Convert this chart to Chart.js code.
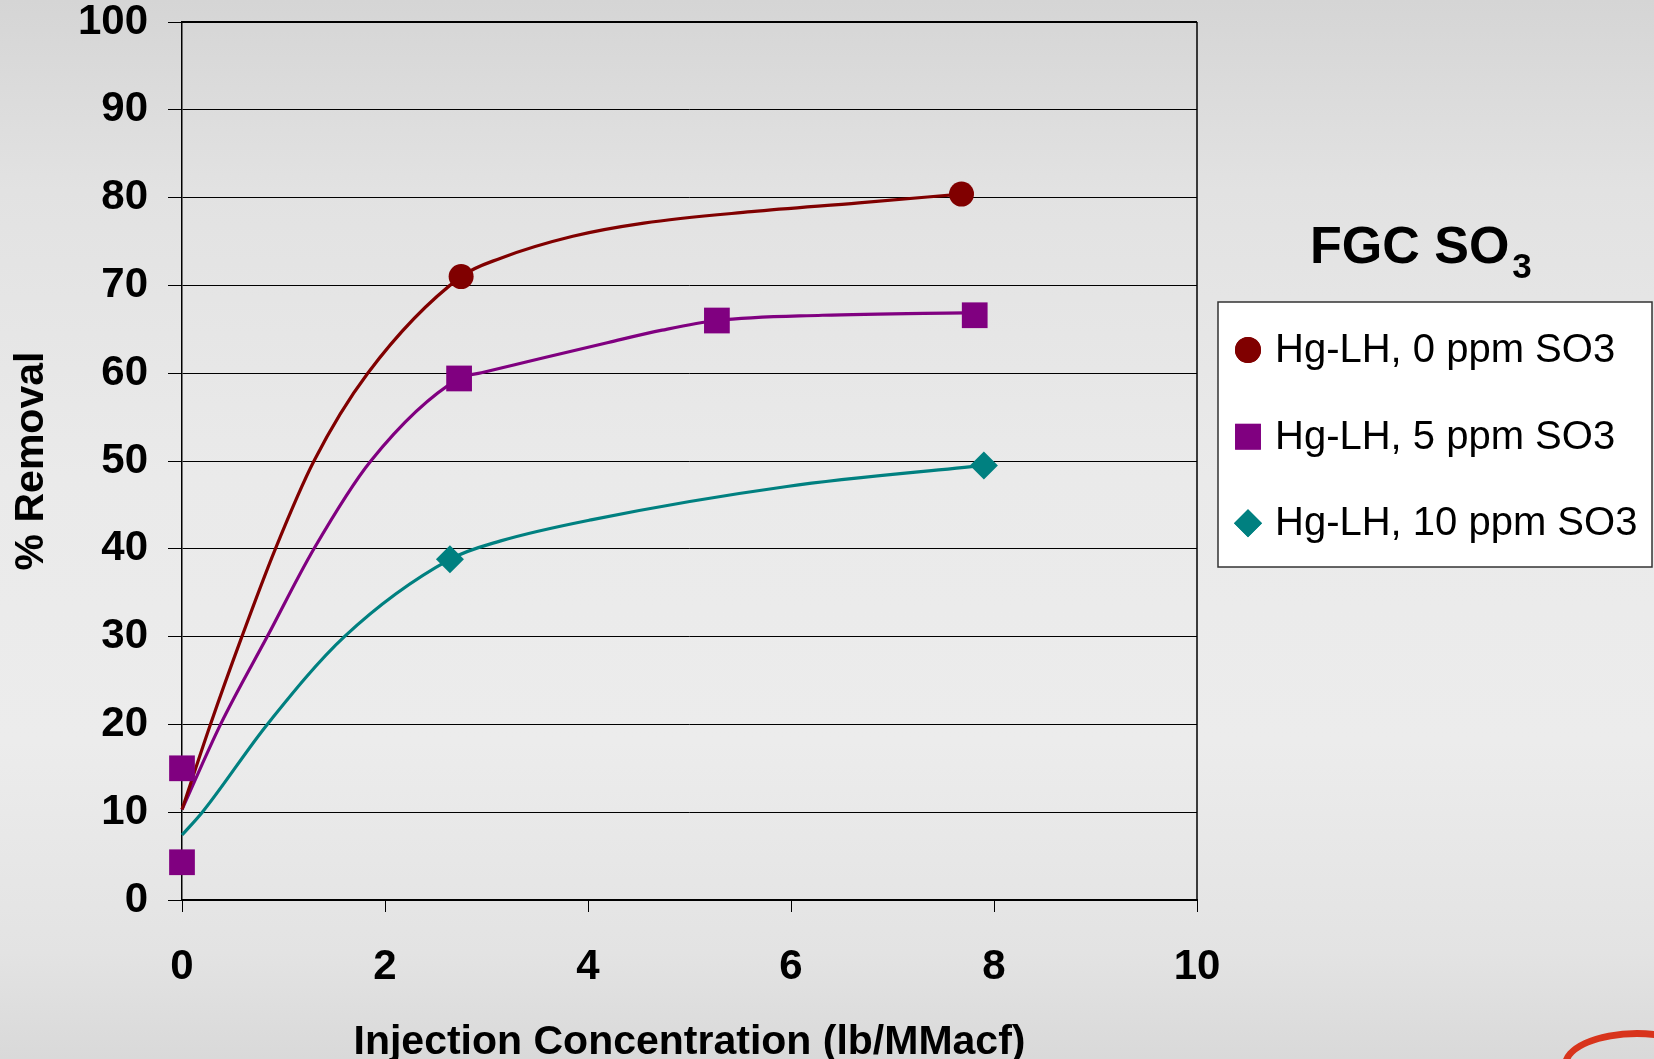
<!DOCTYPE html>
<html>
<head>
<meta charset="utf-8">
<title>Hg removal vs injection concentration</title>
<script src="https://cdn.jsdelivr.net/npm/chart.js@4.4.1/dist/chart.umd.min.js"></script>
<style>
  html, body { margin: 0; padding: 0; }
  body {
    width: 1654px; height: 1059px; overflow: hidden; position: relative;
    background: linear-gradient(180deg, #d5d5d5 0%, #e2e2e2 18%, #eaeaea 45%, #ececec 70%, #e3e3e3 90%, #d9d9d9 100%);
    font-family: "Liberation Sans", Arial, sans-serif;
  }
  #wrap { position: absolute; left: 0; top: 0; width: 1654px; height: 1059px; }
  .logo {
    position: absolute; left: 1562px; top: 1030px; width: 150px; height: 70px;
    border: 7px solid #d8341c; border-radius: 50%; box-sizing: border-box;
  }
</style>
</head>
<body>
<div class="logo"></div>
<div id="wrap"><canvas id="removalChart" width="1654" height="1059"></canvas></div>
<script>
// measured points (lb/MMacf, % removal)
const seriesLabels = ["Hg-LH, 0 ppm SO3", "Hg-LH, 5 ppm SO3", "Hg-LH, 10 ppm SO3"];
const seriesColors = ["#800000", "#800080", "#008080"];

const pts0X = [2.75, 7.68];
const pts0Y = [71.0, 80.4];
const pts5X = [0, 0, 2.73, 5.27, 7.81];
const pts5Y = [15.0, 4.3, 59.4, 66.0, 66.6];
const pts10X = [2.64, 7.90];
const pts10Y = [38.8, 49.5];

// curves
const curve0X = [0, 0.28, 0.59, 0.92, 1.30, 1.83, 2.75, 3.14, 3.85, 4.55, 5.61, 6.67, 7.68];
const curve0Y = [10.3, 20, 30, 40, 50, 60, 71.0, 73.1, 75.6, 77.1, 78.4, 79.4, 80.4];
const curve5X = [0, 0.38, 0.84, 1.30, 1.86, 2.73, 2.95, 3.40, 4.20, 4.73, 5.27, 6.31, 7.81];
const curve5Y = [10.3, 20, 30, 40, 50, 59.4, 60.05, 61.3, 63.5, 64.9, 66.0, 66.6, 66.9];
const curve10X = [0, 0.20, 0.84, 1.60, 2.64, 3.14, 4.03, 5.96, 7.90];
const curve10Y = [7.4, 10, 20, 30, 38.8, 40.9, 43.3, 47.1, 49.5];

const xTicks = [0, 2, 4, 6, 8, 10];
const yTicks = [0, 10, 20, 30, 40, 50, 60, 70, 80, 90, 100];

const FONT = "'Liberation Sans', Arial, sans-serif";

const toPoints = (xs, ys) => xs.map((x, i) => ({ x, y: ys[i] }));

const markerSet = (label, xs, ys, color, style, radius) => ({
  label,
  data: toPoints(xs, ys),
  showLine: false,
  pointStyle: style,
  pointRadius: radius,
  pointHoverRadius: radius,
  pointBackgroundColor: color,
  pointBorderWidth: 0,
  backgroundColor: color,
  borderColor: color,
  clip: false,
  isMarker: true
});

const curveSet = (label, xs, ys, color) => ({
  label,
  data: toPoints(xs, ys),
  showLine: true,
  borderColor: color,
  borderWidth: 3.2,
  pointRadius: 0,
  cubicInterpolationMode: "monotone",
  fill: false,
  clip: false,
  isMarker: false
});

// right and top edges of the plot box
const plotFrame = {
  id: "plotFrame",
  beforeDatasetsDraw(chart) {
    const { ctx, chartArea: a } = chart;
    ctx.save();
    ctx.strokeStyle = "#000";
    ctx.lineWidth = 1.5;
    ctx.beginPath();
    ctx.moveTo(a.right, a.top);
    ctx.lineTo(a.right, a.bottom);
    ctx.stroke();
    ctx.lineWidth = 2;
    ctx.beginPath();
    ctx.moveTo(a.left, a.top);
    ctx.lineTo(a.right, a.top);
    ctx.stroke();
    ctx.restore();
  }
};

// boxed legend with the "FGC SO3" heading
const sideLegend = {
  id: "sideLegend",
  afterDraw(chart) {
    const ctx = chart.ctx;
    ctx.save();
    ctx.fillStyle = "#000";
    ctx.textBaseline = "alphabetic";
    ctx.textAlign = "left";
    ctx.font = "bold 52px " + FONT;
    ctx.fillText("FGC SO", 1310, 263);
    const w = ctx.measureText("FGC SO").width;
    ctx.font = "bold 35px " + FONT;
    ctx.fillText("3", 1310 + w + 3, 278);

    ctx.fillStyle = "#fff";
    ctx.fillRect(1218, 302, 434, 265);
    ctx.strokeStyle = "#333";
    ctx.lineWidth = 1.5;
    ctx.strokeRect(1218, 302, 434, 265);

    const rows = [350, 436.7, 523.3];
    chart.data.datasets.filter(d => d.isMarker).forEach((ds, i) => {
      const y = rows[i];
      ctx.fillStyle = ds.pointBackgroundColor;
      const sz = ds.pointStyle === "rect" ? 18.2 : ds.pointStyle === "rectRot" ? 14 : 13;
      Chart.helpers.drawPoint(ctx, { pointStyle: ds.pointStyle, radius: sz, borderWidth: 0, rotation: 0 }, 1248, y);
      ctx.fill();
      ctx.fillStyle = "#000";
      ctx.font = "40px " + FONT;
      ctx.textBaseline = "middle";
      ctx.fillText(ds.label, 1275, y + 1);
    });
    ctx.restore();
  }
};

new Chart(document.getElementById("removalChart"), {
  type: "scatter",
  data: {
    datasets: [
      markerSet(seriesLabels[0], pts0X, pts0Y, seriesColors[0], "circle", 12.5),
      markerSet(seriesLabels[1], pts5X, pts5Y, seriesColors[1], "rect", 18.2),
      markerSet(seriesLabels[2], pts10X, pts10Y, seriesColors[2], "rectRot", 14),
      curveSet("fit 0 ppm", curve0X, curve0Y, seriesColors[0]),
      curveSet("fit 5 ppm", curve5X, curve5Y, seriesColors[1]),
      curveSet("fit 10 ppm", curve10X, curve10Y, seriesColors[2])
    ]
  },
  options: {
    responsive: false,
    devicePixelRatio: 1,
    animation: false,
    layout: { padding: { top: 22, right: 457, bottom: 0, left: 0 } },
    plugins: {
      legend: { display: false },
      tooltip: { enabled: false }
    },
    scales: {
      x: {
        type: "linear",
        min: 0,
        max: 10,
        afterBuildTicks: s => { s.ticks = xTicks.map(v => ({ value: v })); },
        afterFit: s => { s.height = 159; s.paddingLeft = 0; s.paddingRight = 0; },
        ticks: { color: "#000", padding: 30, font: { family: FONT, size: 42, weight: "bold" } },
        grid: { drawOnChartArea: false, drawTicks: true, tickLength: 12, color: "#000", lineWidth: 1 },
        border: { color: "#000", width: 2 },
        title: {
          display: true,
          text: "Injection Concentration (lb/MMacf)",
          color: "#000",
          font: { family: FONT, size: 41, weight: "bold", lineHeight: 0.8 },
          padding: { top: 0, bottom: 0 }
        }
      },
      y: {
        min: 0,
        max: 100,
        afterBuildTicks: s => { s.ticks = yTicks.map(v => ({ value: v })); },
        afterFit: s => { s.width = 182; s.paddingTop = 0; s.paddingBottom = 0; },
        ticks: { color: "#000", padding: 20, font: { family: FONT, size: 42, weight: "bold" } },
        grid: { color: "#000", lineWidth: 1, tickLength: 14 },
        border: { color: "#000", width: 1.5 },
        title: {
          display: true,
          text: "% Removal",
          color: "#000",
          font: { family: FONT, size: 41, weight: "bold", lineHeight: 1 },
          padding: { top: 11, bottom: 0 }
        }
      }
    }
  },
  plugins: [plotFrame, sideLegend]
});
</script>
</body>
</html>
